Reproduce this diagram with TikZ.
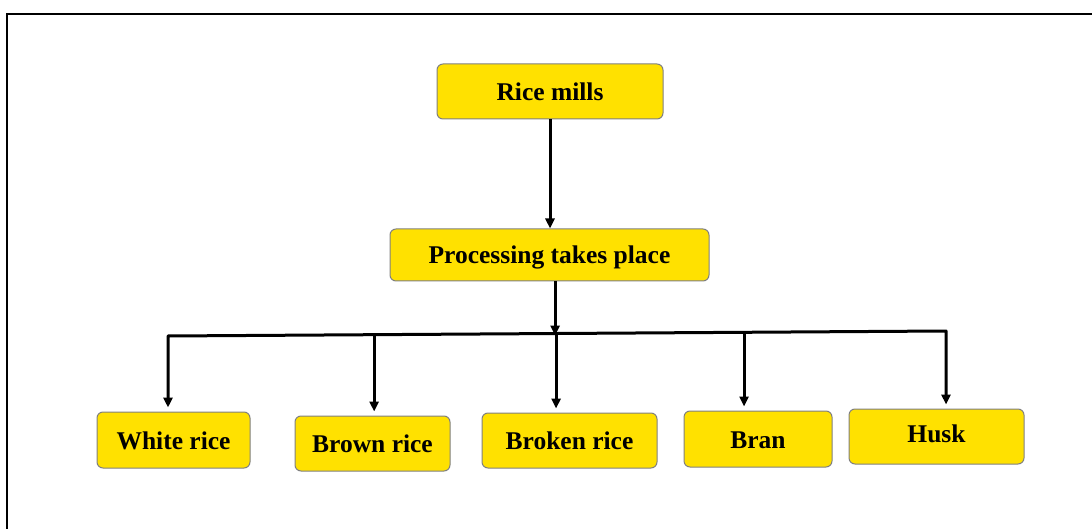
\documentclass[tikz,border=0pt]{standalone}
\usepackage{fontspec}
\setmainfont{Liberation Serif}
\usetikzlibrary{arrows.meta,calc}
\definecolor{boxfill}{HTML}{FFE100}
\definecolor{boxedge}{HTML}{808080}
\begin{document}
\begin{tikzpicture}[x=1pt,y=-1pt,
  box/.style={draw=boxedge, line width=1pt, fill=boxfill, rounded corners=6pt,
    font=\fontsize{25.5}{30}\selectfont\bfseries, inner sep=0pt,
    text height=18pt, text depth=0pt},
  flow/.style={line width=3pt, line join=round, -{Triangle[length=10pt,width=9pt]}},
  drop/.style={flow, shorten >=4pt},
]
\useasboundingbox (0,0) rectangle (1092,529);
% outer frame
\draw[line width=2.4pt] (7,535) -- (7,14) -- (1098,14);

% boxes
\node[box, minimum width=226pt, minimum height=55pt] (rice)   at (550,91.5)  {Rice mills};
\node[box, minimum width=319pt, minimum height=52pt] (proc)   at (549.5,255) {Processing takes place};
\node[box, minimum width=153pt, minimum height=56pt] (white)  at (173.5,440)   {White rice};
\node[box, minimum width=155pt, minimum height=55pt] (brown)  at (372.5,443.5) {Brown rice};
\node[box, minimum width=175pt, minimum height=55pt] (broken) at (569.5,440.5) {Broken rice};
\node[box, minimum width=148pt, minimum height=56pt] (bran)   at (758,439)     {Bran};
\node[box, minimum width=175pt, minimum height=55pt, text height=12pt] (husk) at (936.5,436.5) {Husk};

% distribution bar
\coordinate (busL) at (168,336);
\coordinate (busR) at (946,331);
\coordinate (hub)  at ($(busL)!(553,0)!(busR)$);
\coordinate (dBrown) at ($(busL)!(372,0)!(busR)$);
\coordinate (dBroken) at ($(busL)!(554,0)!(busR)$);
\coordinate (dBran) at ($(busL)!(742,0)!(busR)$);

% connectors
\draw[flow] (rice.south -| 550,0) -- (proc.north -| 550,0);
\draw[flow] (proc.south -| hub) -- ([yshift=-2pt]hub);
\draw[drop] (hub) -- (busL) -- (busL |- white.north);
\draw[drop] (hub) -- (busR) -- (busR |- husk.north);
\draw[drop] (dBrown) -- (dBrown |- brown.north);
\draw[drop] (dBroken) -- (dBroken |- broken.north);
\draw[drop] (dBran) -- (dBran |- bran.north);
\end{tikzpicture}
\end{document}
